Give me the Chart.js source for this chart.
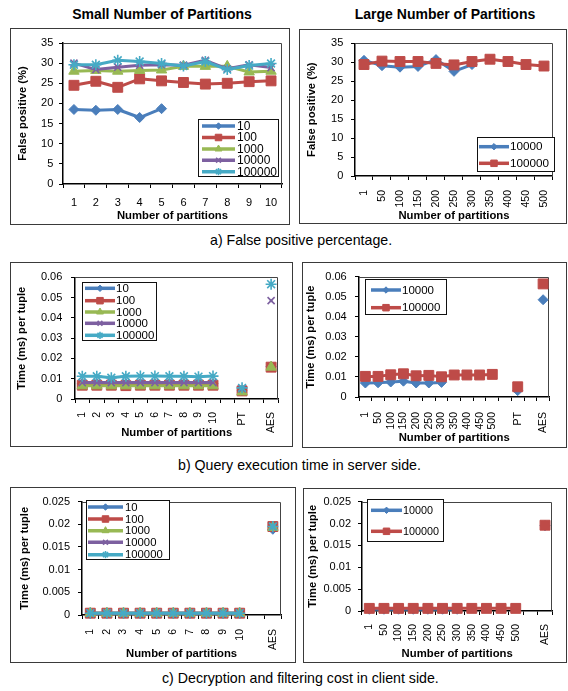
<!DOCTYPE html>
<html><head><meta charset="utf-8">
<script src="https://cdn.jsdelivr.net/npm/chart.js@4/dist/chart.umd.min.js"></script>
<style>
html,body{margin:0;padding:0;background:#fff;}
body{width:568px;height:691px;position:relative;overflow:hidden;font-family:"Liberation Sans",Arial,sans-serif;}
.panel{position:absolute;}
.panel canvas{position:absolute;left:0;top:0;}
.frame{position:absolute;left:0;top:0;right:0;bottom:0;border:1px solid #3a3a3a;box-sizing:border-box;pointer-events:none;}
.txt{position:absolute;white-space:nowrap;color:#000;}
.head{font-weight:bold;font-size:14px;transform:translate(-50%,-50%);}
.cap{font-size:14.2px;transform:translateY(-50%);}
</style></head><body>
<div class="txt head" style="left:162px;top:14px">Small Number of Partitions</div>
<div class="txt head" style="left:445px;top:14px">Large Number of Partitions</div>
<div class="txt cap" style="left:210px;top:240px">a) False positive percentage.</div>
<div class="txt cap" style="left:178px;top:465px">b) Query execution time in server side.</div>
<div class="txt cap" style="left:162px;top:678px">c) Decryption and filtering cost in client side.</div>
<script>
// ---------- DATA ----------
const smallPartLabels = ['1','2','3','4','5','6','7','8','9','10'];
const largePartLabels = ['1','50','100','150','200','250','300','350','400','450','500'];
const smallTimeLabels = ['1','2','3','4','5','6','7','8','9','10','','PT','','AES'];
const largeTimeLabels = ['1','50','100','150','200','250','300','350','400','450','500','','PT','','AES'];
const smallClientLabels = ['1','2','3','4','5','6','7','8','9','10','','AES'];
const largeClientLabels = ['1','50','100','150','200','250','300','350','400','450','500','','AES'];

const fpYTicks = [0,5,10,15,20,25,30,35];
const timeYTicks = [0,0.01,0.02,0.03,0.04,0.05,0.06];
const clientYTicks = [0,0.005,0.01,0.015,0.02,0.025];

const seriesNamesSmall = ['10','100','1000','10000','100000'];
const seriesNamesLarge = ['10000','100000'];

// a) false positive, small number of partitions
const fpSmall10     = [18.5,18.3,18.5,16.5,18.7,null,null,null,null,null];
const fpSmall100    = [24.5,25.5,24.0,26.1,25.6,25.2,24.8,25.0,25.4,25.6];
const fpSmall1000   = [28.0,28.2,28.0,28.2,28.3,29.2,29.2,29.2,27.8,28.0];
const fpSmall10000  = [30.0,28.4,29.0,29.5,29.6,29.5,30.7,28.6,29.6,28.9];
const fpSmall100000 = [29.6,29.6,30.7,30.4,29.9,29.3,30.4,28.4,29.4,29.9];
// a) false positive, large number of partitions
const fpLarge10000  = [30.5,29.1,28.7,28.9,30.7,27.6,29.4,null,null,null,null];
const fpLarge100000 = [29.4,30.3,30.2,30.2,29.7,29.3,30.2,30.8,30.2,29.4,29.0];

// b) server time, small
const tSmall10     = [0.0075,0.0075,0.0075,0.0075,0.0075,0.0075,0.0075,0.0075,0.0075,0.0075,null,0.0040,null,0.0160];
const tSmall100    = [0.0068,0.0068,0.0068,0.0066,0.0068,0.0068,0.0068,0.0068,0.0068,0.0068,null,0.0040,null,0.0157];
const tSmall1000   = [0.0065,0.0065,0.0065,0.0065,0.0065,0.0065,0.0065,0.0065,0.0065,0.0065,null,0.0035,null,0.0157];
const tSmall10000  = [0.0081,0.0081,0.0081,0.0081,0.0081,0.0081,0.0081,0.0081,0.0081,0.0081,null,0.0050,null,0.0485];
const tSmall100000 = [0.0112,0.0112,0.0105,0.0112,0.0113,0.0113,0.0112,0.0112,0.0110,0.0113,null,0.0055,null,0.0566];
// b) server time, large
const tLarge10000  = [0.0070,0.0071,0.0075,0.0079,0.0070,0.0070,0.0073,null,null,null,null,null,0.0032,null,0.0486];
const tLarge100000 = [0.0103,0.0103,0.0111,0.0116,0.0106,0.0108,0.0101,0.0110,0.0110,0.0110,0.0113,null,0.0051,null,0.0565];

// c) client cost, small
const cSmall10     = [0.0004,0.0004,0.0004,0.0004,0.0004,0.0004,0.0004,0.0004,0.0004,0.0004,null,0.0189];
const cSmall100    = [0.0004,0.0004,0.0004,0.0004,0.0004,0.0004,0.0004,0.0004,0.0004,0.0004,null,0.0195];
const cSmall1000   = [0.0004,0.0004,0.0004,0.0004,0.0004,0.0004,0.0004,0.0004,0.0004,0.0004,null,0.0193];
const cSmall10000  = [0.0004,0.0004,0.0004,0.0004,0.0004,0.0004,0.0004,0.0004,0.0004,0.0004,null,0.0195];
const cSmall100000 = [0.0004,0.0004,0.0004,0.0004,0.0004,0.0004,0.0004,0.0004,0.0004,0.0004,null,0.0195];
// c) client cost, large
const cLarge10000  = [0.0004,0.0004,0.0004,0.0004,0.0004,0.0004,0.0004,null,null,null,null,null,0.0195];
const cLarge100000 = [0.0006,0.0006,0.0006,0.0006,0.0006,0.0006,0.0006,0.0006,0.0006,0.0006,0.0006,null,0.0196];

// ---------- STYLE (Excel series order) ----------
const FONT = '"Liberation Sans", Arial, sans-serif';
const STYLES = [
  {color:'#4A7EBB', point:'rectRot',  r:5,   lr:3.2, bw:1},
  {color:'#BE4B48', point:'rect',     r:7,   lr:4.6, bw:1},
  {color:'#98B954', point:'triangle', r:6,   lr:4,   bw:1},
  {color:'#7D60A0', point:'crossRot', r:5,   lr:3.4, bw:1.6},
  {color:'#46AAC5', point:'star',     r:5.5, lr:3.6, bw:1.6}
];

const fmt = v => String(parseFloat(Number(v).toFixed(4)));

const plotFrame = {
  id:'plotFrame',
  beforeDatasetsDraw(chart){
    const {ctx, chartArea:a} = chart;
    ctx.save(); ctx.strokeStyle='#444'; ctx.lineWidth=1;
    ctx.beginPath();
    ctx.moveTo(a.left, Math.round(a.top)+0.5);
    ctx.lineTo(Math.round(a.right)-0.5, Math.round(a.top)+0.5);
    ctx.lineTo(Math.round(a.right)-0.5, a.bottom);
    ctx.stroke(); ctx.restore();
  }
};

function makeLegend(L){
  return {
    id:'boxLegend',
    afterDraw(chart){
      const ctx = chart.ctx;
      ctx.save();
      ctx.fillStyle='#fff'; ctx.fillRect(L.x, L.y, L.w, L.h);
      ctx.strokeStyle='#111'; ctx.lineWidth=1;
      ctx.strokeRect(Math.round(L.x)+0.5, Math.round(L.y)+0.5, Math.round(L.w)-1, Math.round(L.h)-1);
      chart.data.datasets.forEach((ds,i)=>{
        const y = L.rows[i];
        ctx.strokeStyle = ds.borderColor; ctx.lineWidth = 3.5;
        ctx.beginPath(); ctx.moveTo(L.x0, y); ctx.lineTo(L.x1, y); ctx.stroke();
        ctx.fillStyle = ds.borderColor; ctx.strokeStyle = ds.borderColor; ctx.lineWidth = ds.pointBorderWidth;
        if (Chart.helpers && Chart.helpers.drawPoint) {
          Chart.helpers.drawPoint(ctx, {pointStyle: ds.pointStyle, rotation:0, radius: ds._lr, borderWidth: ds.pointBorderWidth}, (L.x0+L.x1)/2, y);
        }
        ctx.fillStyle = '#000';
        ctx.font = L.font + 'px ' + FONT;
        ctx.textBaseline = 'middle'; ctx.textAlign = 'left';
        ctx.fillText(ds.label, L.tx, y + 0.5);
      });
      ctx.restore();
    }
  };
}

function build(c){
  const B = c.box, P = c.plot;
  const wrap = document.createElement('div');
  wrap.className = 'panel';
  Object.assign(wrap.style, {left:B.x+'px', top:B.y+'px', width:B.w+'px', height:B.h+'px'});
  const cv = document.createElement('canvas');
  cv.width = B.w; cv.height = B.h;
  cv.style.width = B.w+'px'; cv.style.height = B.h+'px';
  wrap.appendChild(cv);
  const fr = document.createElement('div'); fr.className='frame'; wrap.appendChild(fr);
  document.body.appendChild(wrap);

  const yW = P.l - B.x, xH = B.y + B.h - P.b;
  const padTop = P.t - B.y, padRight = B.x + B.w - P.r;
  const n = c.series.length;
  const datasets = c.series.map((s,i)=>{
    const st = STYLES[i];
    return {
      label: s.name, data: s.values,
      borderColor: st.color, backgroundColor: st.color, borderWidth: 3,
      pointStyle: st.point, pointRadius: st.r, pointHoverRadius: st.r,
      pointBackgroundColor: st.color, pointBorderColor: st.color, pointBorderWidth: st.bw,
      tension: 0, spanGaps: false, clip: false, order: n - i, _lr: st.lr
    };
  });
  const L = c.legend;
  const legend = {x:L.x-B.x, y:L.y-B.y, w:L.w, h:L.h, x0:L.x0-B.x, x1:L.x1-B.x, tx:L.tx-B.x,
                  rows:L.rows.map(r=>r-B.y), font:L.font};
  new Chart(cv, {
    type:'line',
    data:{labels:c.labels, datasets},
    plugins:[plotFrame, makeLegend(legend)],
    options:{
      responsive:false, animation:false, devicePixelRatio:1,
      layout:{padding:{left:0, top:padTop, right:padRight, bottom:0}},
      plugins:{legend:{display:false}, tooltip:{enabled:false}, title:{display:false}},
      elements:{line:{borderCapStyle:'round', borderJoinStyle:'round'}},
      scales:{
        x:{
          type:'category', offset:true,
          grid:{display:true, drawOnChartArea:false, drawTicks:true, tickLength:4, offset:true, color:'#000', lineWidth:1},
          border:{display:true, color:'#000', width:1.5},
          ticks:{autoSkip:false, maxRotation:c.rot, minRotation:c.rot, padding:c.xPad, color:'#000',
                 font:{family:FONT, size:c.xFont}},
          title:{display:true, text:'Number of partitions', color:'#000',
                 font:{family:FONT, size:11.3, weight:'bold'}, padding:{top:0, bottom:c.xTitlePad}},
          afterFit: s => { s.height = xH; }
        },
        y:{
          type:'linear', min:0, max:c.yTicks[c.yTicks.length-1],
          afterBuildTicks: s => { s.ticks = c.yTicks.map(v=>({value:v})); },
          grid:{display:true, drawOnChartArea:false, drawTicks:true, tickLength:4, color:'#000', lineWidth:1},
          border:{display:true, color:'#000', width:1.5},
          ticks:{padding:c.yPad, color:'#000', font:{family:FONT, size:11}, callback: v => fmt(v)},
          title:{display:true, text:c.yTitle, color:'#000',
                 font:{family:FONT, size:11.2, weight:'bold'}, padding:{top:c.yTitlePad, bottom:0}},
          afterFit: s => { s.width = yW; }
        }
      }
    }
  });
}

const sm = (names, arrs) => names.map((nm,i)=>({name:nm, values:arrs[i]}));

build({
  box:{x:10,y:28,w:280,h:197}, plot:{l:63,t:43,r:285,b:184},
  labels:smallPartLabels, yTicks:fpYTicks, yTitle:'False positive (%)',
  series: sm(seriesNamesSmall,[fpSmall10,fpSmall100,fpSmall1000,fpSmall10000,fpSmall100000]),
  rot:0, xFont:11, yPad:5.7, xPad:8.4, yTitlePad:6.2, xTitlePad:2.2,
  legend:{x:198,y:119,w:81,h:58,x0:202,x1:235,tx:237,rows:[126,137.5,149,160.2,171.7],font:12}
});
build({
  box:{x:299,y:29,w:268,h:195}, plot:{l:355,t:43,r:558,b:176},
  labels:largePartLabels, yTicks:fpYTicks, yTitle:'False positive (%)',
  series: sm(seriesNamesLarge,[fpLarge10000,fpLarge100000]),
  rot:90, xFont:10.5, yPad:7.7, xPad:10, yTitlePad:6.2, xTitlePad:1.2,
  legend:{x:477,y:137,w:78,h:35,x0:479,x1:509,tx:510,rows:[146.7,163.3],font:11.7}
});
build({
  box:{x:10,y:262,w:283,h:185}, plot:{l:75,t:276,r:288,b:399},
  labels:smallTimeLabels, yTicks:timeYTicks, yTitle:'Time (ms) per tuple',
  series: sm(seriesNamesSmall,[tSmall10,tSmall100,tSmall1000,tSmall10000,tSmall100000]),
  rot:90, xFont:10.5, yPad:8.7, xPad:9, yTitlePad:4.9, xTitlePad:6.9,
  legend:{x:82,y:282,w:75,h:59,x0:85,x1:115,tx:116,rows:[288.3,300.7,312,323.3,335.3],font:11.5}
});
build({
  box:{x:302,y:262,w:265,h:186}, plot:{l:359,t:272,r:558,b:397},
  labels:largeTimeLabels, yTicks:timeYTicks, yTitle:'Time (ms) per tuple',
  series: sm(seriesNamesLarge,[tLarge10000,tLarge100000]),
  rot:90, xFont:10.5, yPad:8.3, xPad:11, yTitlePad:1.9, xTitlePad:2.9,
  legend:{x:365,y:279,w:82,h:36,x0:371,x1:401,tx:402,rows:[290,307.7],font:11.5}
});
build({
  box:{x:10,y:487,w:286,h:176}, plot:{l:82,t:494,r:283,b:615},
  labels:smallClientLabels, yTicks:clientYTicks, yTitle:'Time (ms) per tuple',
  series: sm(seriesNamesSmall,[cSmall10,cSmall100,cSmall1000,cSmall10000,cSmall100000]),
  rot:90, xFont:10.5, yPad:8, xPad:10, yTitlePad:8.2, xTitlePad:2.5,
  legend:{x:86,y:500,w:84,h:60,x0:88,x1:123,tx:125,rows:[507,519,530.7,542.3,554.7],font:11.3}
});
build({
  box:{x:303,y:488,w:264,h:175}, plot:{l:362,t:493,r:557,b:611},
  labels:largeClientLabels, yTicks:clientYTicks, yTitle:'Time (ms) per tuple',
  series: sm(seriesNamesLarge,[cLarge10000,cLarge100000]),
  rot:90, xFont:10.5, yPad:7, xPad:9, yTitlePad:3.5, xTitlePad:2.5,
  legend:{x:367,y:499,w:77,h:43,x0:371,x1:402,tx:403,rows:[510.3,531.3],font:10.8}
});
</script>
</body></html>
